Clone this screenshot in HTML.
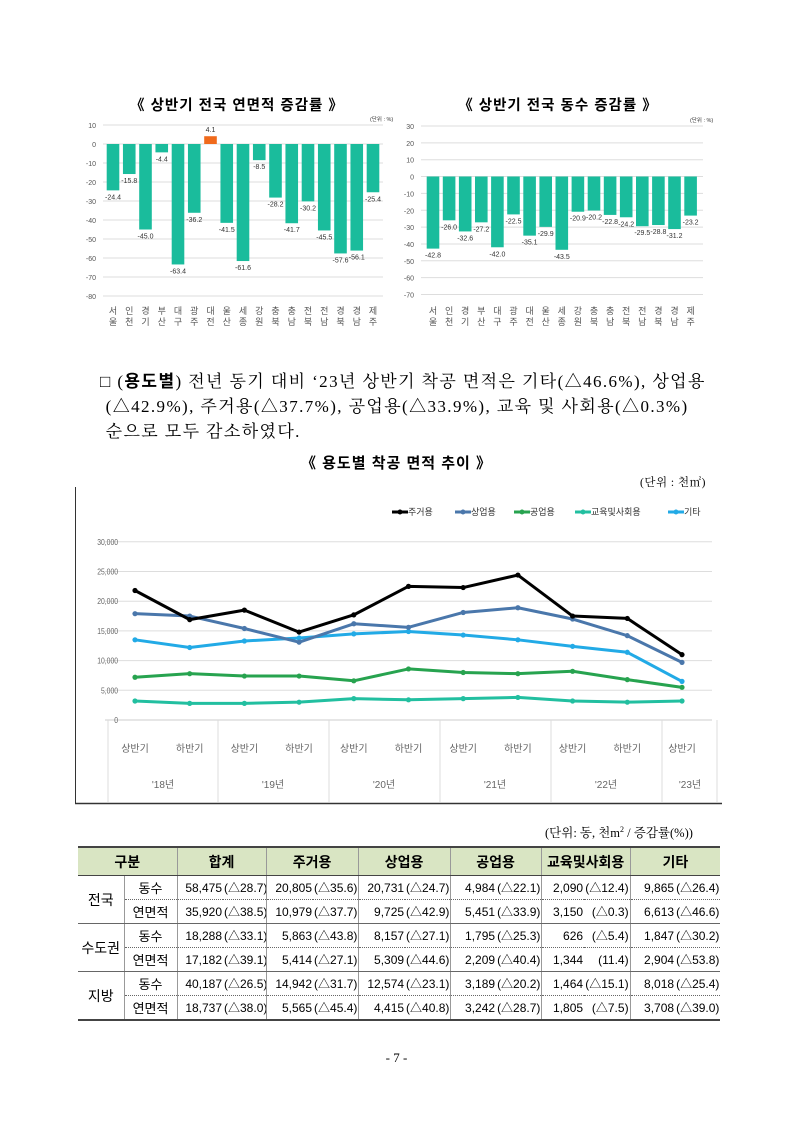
<!DOCTYPE html>
<html><head><meta charset="utf-8">
<style>
body{margin:0;background:#fff;}
#pg{position:relative;width:793px;height:1121px;overflow:hidden;font-family:"Liberation Sans","Noto Sans CJK KR",sans-serif;color:#000;}
.a{position:absolute;white-space:nowrap;}
.ser{font-family:"Liberation Serif","Noto Serif CJK SC","Noto Sans CJK KR",serif;}
table{border-collapse:collapse;position:absolute;left:78px;top:846px;width:642px;font-size:12px;table-layout:fixed;}
td{height:23px;padding:0 1px;white-space:nowrap;overflow:hidden;}
th{height:25px;background:#d9e5c3;font-weight:bold;font-size:14px;border-top:2px solid #444;border-bottom:1px solid #444;border-left:1px solid #999;}
td.n{text-align:right;border-left:1px solid #999;}
td.p{text-align:right;}
td.r{text-align:center;font-size:14px;border-right:1px solid #999;}
td.t{text-align:center;font-size:13px;}
tr.d td{border-bottom:1px dotted #666;}
tr.s td{border-bottom:1px solid #666;}
tr.last td{border-bottom:2px solid #444;}
</style></head><body><div id="pg">

<svg class="a" style="left:0;top:0" width="793" height="340" font-family="Liberation Sans, Noto Sans CJK KR, sans-serif">
<text x="237" y="110" text-anchor="middle" font-size="14.5" font-weight="bold" letter-spacing="1">《 상반기 전국 연면적 증감률 》</text>
<text x="370" y="121" font-size="5.5" fill="#333">(단위 : %)</text>
<g stroke="#ddd" stroke-width="1">
<line x1="103" x2="383" y1="125" y2="125"/><line x1="103" x2="383" y1="144" y2="144"/><line x1="103" x2="383" y1="163" y2="163"/><line x1="103" x2="383" y1="182" y2="182"/><line x1="103" x2="383" y1="201" y2="201"/><line x1="103" x2="383" y1="220" y2="220"/><line x1="103" x2="383" y1="239" y2="239"/><line x1="103" x2="383" y1="258" y2="258"/><line x1="103" x2="383" y1="277" y2="277"/><line x1="103" x2="383" y1="296" y2="296"/>
</g>
<g font-size="7" fill="#555" text-anchor="end">
<text x="96" y="128">10</text><text x="96" y="147">0</text><text x="96" y="166">-10</text><text x="96" y="185">-20</text><text x="96" y="204">-30</text><text x="96" y="223">-40</text><text x="96" y="242">-50</text><text x="96" y="261">-60</text><text x="96" y="280">-70</text><text x="96" y="299">-80</text>
</g>
<g id="b1" fill="#1abc9c"></g>
<g id="l1" font-size="7" fill="#333" text-anchor="middle"></g>
<g id="x1" font-size="9" fill="#555" text-anchor="middle"></g>

<text x="558" y="110" text-anchor="middle" font-size="14.5" font-weight="bold" letter-spacing="1">《 상반기 전국 동수 증감률 》</text>
<text x="690" y="122" font-size="5.5" fill="#333">(단위 : %)</text>
<g id="g2" stroke="#ddd"></g>
<g id="y2" font-size="7" fill="#555" text-anchor="end"></g>
<g id="b2" fill="#1abc9c"></g>
<g id="l2" font-size="7" fill="#333" text-anchor="middle"></g>
<g id="x2" font-size="9" fill="#555" text-anchor="middle"></g>
</svg>

<div class="a ser" style="left:100px;top:369px;font-size:17px;line-height:25px;letter-spacing:1.4px;">□ (<b style="font-family:'Liberation Sans','Noto Sans CJK KR',sans-serif">용도별</b>) 전년 동기 대비 ‘23년 상반기 착공 면적은 기타(△46.6%), 상업용<br>&nbsp;(△42.9%), 주거용(△37.7%), 공업용(△33.9%), 교육 및 사회용(△0.3%)<br>&nbsp;순으로 모두 감소하였다.</div>
<div class="a" style="left:0;width:793px;text-align:center;top:452px;font-size:15px;font-weight:bold;letter-spacing:1px;">《 용도별 착공 면적 추이 》</div>
<div class="a ser" style="left:640px;top:474px;font-size:11.5px;letter-spacing:0.5px;">(단위 : 천㎡)</div>

<svg class="a" style="left:0;top:0" width="793" height="810" font-family="Liberation Sans, Noto Sans CJK KR, sans-serif">
<line x1="75.5" y1="487" x2="75.5" y2="803" stroke="#333"/>
<line x1="75" y1="803.5" x2="722" y2="803.5" stroke="#333" stroke-width="1.5"/>
<g id="lg" font-size="9" fill="#333"></g>
<g id="gg" stroke="#ddd"></g>
<g id="gy" font-size="8" fill="#666" text-anchor="end" transform="scale(0.85,1)"></g>
<g id="cat" font-size="10" fill="#666" text-anchor="middle"></g>
<g id="ser" fill="none" stroke-width="3" stroke-linejoin="round"></g>
</svg>

<div class="a ser" style="left:545px;top:823px;font-size:12.5px;">(단위: 동, 천m<sup style="font-size:8px">2</sup> / 증감률(%))</div>

<table>
<colgroup><col style="width:46px"><col style="width:53px"><col style="width:46px"><col style="width:43px"><col style="width:47px"><col style="width:45px"><col style="width:47px"><col style="width:45px"><col style="width:46px"><col style="width:45px"><col style="width:43px"><col style="width:46px"><col style="width:45px"><col style="width:45px"></colgroup>
<tr><th colspan="2" style="border-left:none">구분</th><th colspan="2">합계</th><th colspan="2">주거용</th><th colspan="2">상업용</th><th colspan="2">공업용</th><th colspan="2">교육및사회용</th><th colspan="2">기타</th></tr>
<tr class="d"><td rowspan="2" class="r" style="border-bottom:1px solid #666">전국</td><td class="t">동수</td><td class="n">58,475</td><td class="p">(△28.7)</td><td class="n">20,805</td><td class="p">(△35.6)</td><td class="n">20,731</td><td class="p">(△24.7)</td><td class="n">4,984</td><td class="p">(△22.1)</td><td class="n">2,090</td><td class="p">(△12.4)</td><td class="n">9,865</td><td class="p">(△26.4)</td></tr>
<tr class="s"><td class="t">연면적</td><td class="n">35,920</td><td class="p">(△38.5)</td><td class="n">10,979</td><td class="p">(△37.7)</td><td class="n">9,725</td><td class="p">(△42.9)</td><td class="n">5,451</td><td class="p">(△33.9)</td><td class="n">3,150</td><td class="p">(△0.3)</td><td class="n">6,613</td><td class="p">(△46.6)</td></tr>
<tr class="d"><td rowspan="2" class="r" style="border-bottom:1px solid #666">수도권</td><td class="t">동수</td><td class="n">18,288</td><td class="p">(△33.1)</td><td class="n">5,863</td><td class="p">(△43.8)</td><td class="n">8,157</td><td class="p">(△27.1)</td><td class="n">1,795</td><td class="p">(△25.3)</td><td class="n">626</td><td class="p">(△5.4)</td><td class="n">1,847</td><td class="p">(△30.2)</td></tr>
<tr class="s"><td class="t">연면적</td><td class="n">17,182</td><td class="p">(△39.1)</td><td class="n">5,414</td><td class="p">(△27.1)</td><td class="n">5,309</td><td class="p">(△44.6)</td><td class="n">2,209</td><td class="p">(△40.4)</td><td class="n">1,344</td><td class="p">(11.4)</td><td class="n">2,904</td><td class="p">(△53.8)</td></tr>
<tr class="d"><td rowspan="2" class="r" style="border-bottom:2px solid #444">지방</td><td class="t">동수</td><td class="n">40,187</td><td class="p">(△26.5)</td><td class="n">14,942</td><td class="p">(△31.7)</td><td class="n">12,574</td><td class="p">(△23.1)</td><td class="n">3,189</td><td class="p">(△20.2)</td><td class="n">1,464</td><td class="p">(△15.1)</td><td class="n">8,018</td><td class="p">(△25.4)</td></tr>
<tr class="last"><td class="t">연면적</td><td class="n">18,737</td><td class="p">(△38.0)</td><td class="n">5,565</td><td class="p">(△45.4)</td><td class="n">4,415</td><td class="p">(△40.8)</td><td class="n">3,242</td><td class="p">(△28.7)</td><td class="n">1,805</td><td class="p">(△7.5)</td><td class="n">3,708</td><td class="p">(△39.0)</td></tr>
</table>

<div class="a ser" style="left:0;width:793px;text-align:center;top:1050px;font-size:13px;">- 7 -</div>

<script>
const NS="http://www.w3.org/2000/svg";
function el(p,t,a,txt){const e=document.createElementNS(NS,t);for(const k in a)e.setAttribute(k,a[k]);if(txt!=null)e.textContent=txt;document.getElementById(p).appendChild(e);return e;}
const reg=["서울","인천","경기","부산","대구","광주","대전","울산","세종","강원","충북","충남","전북","전남","경북","경남","제주"];
const v1=[-24.4,-15.8,-45.0,-4.4,-63.4,-36.2,4.1,-41.5,-61.6,-8.5,-28.2,-41.7,-30.2,-45.5,-57.6,-56.1,-25.4];
const v2=[-42.8,-26.0,-32.6,-27.2,-42.0,-22.5,-35.1,-29.9,-43.5,-20.9,-20.2,-22.8,-24.2,-29.5,-28.8,-31.2,-23.2];
function bars(v,bg,lg,xg,x0,dx,y0,s){
 v.forEach((d,i)=>{const cx=x0+i*dx,h=Math.abs(d)*s,y=d<0?y0:y0-h;
  const r=el(bg,"rect",{x:cx-6.3,y:y,width:12.6,height:h});if(d>0)r.setAttribute("fill","#f06a1c");
  el(lg,"text",{x:cx,y:d<0?y0+h+9:y-4},d.toFixed(1));
  el(xg,"text",{x:cx,y:314},reg[i][0]);el(xg,"text",{x:cx,y:325},reg[i][1]);});
}
bars(v1,"b1","l1","x1",113,16.25,144,1.9);
for(let k=0;k<=10;k++){const y=126+k*16.85;el("g2","line",{x1:421,x2:703,y1:y,y2:y});el("y2","text",{x:414,y:y+3},String(30-10*k));}
bars(v2,"b2","l2","x2",433,16.1,176.5,1.685);
for(let k=0;k<=6;k++){const y=720-k*29.7;if(k>0)el("gg","line",{x1:105,x2:712,y1:y,y2:y});el("gy","text",{x:118/0.85,y:y+3},k==0?"0":(k*5)+",000");}
el("gg","line",{x1:105,x2:712,y1:720,y2:720,stroke:"#ccc"});
[108,218,329,440,551,662,717].forEach(x=>el("gg","line",{x1:x,x2:x,y1:720,y2:802,stroke:"#ddd"}));
const xs=[],half=["상반기","하반기"];
for(let i=0;i<11;i++){xs.push(135+i*54.7);el("cat","text",{x:135+i*54.7,y:752},half[i%2]);}
["'18년","'19년","'20년","'21년","'22년","'23년"].forEach((t,i)=>el("cat","text",{x:[163,273,384,495,606,690][i],y:788},t));
const S=[["#000",[21.8,16.9,18.5,14.8,17.7,22.5,22.3,24.4,17.5,17.1,11.0],"주거용"],
["#4a77ab",[17.9,17.5,15.4,13.1,16.2,15.6,18.1,18.9,17.0,14.2,9.7],"상업용"],
["#27a34f",[7.2,7.8,7.4,7.4,6.6,8.6,8.0,7.8,8.2,6.8,5.5],"공업용"],
["#22bfa0",[3.2,2.8,2.8,3.0,3.6,3.4,3.6,3.8,3.2,3.0,3.2],"교육및사회용"],
["#22aae6",[13.5,12.2,13.3,13.8,14.5,14.9,14.3,13.5,12.4,11.4,6.5],"기타"]];
[3,2,4,1,0].forEach(j=>{const [c,d]=S[j];el("ser","polyline",{stroke:c,points:d.map((v,i)=>xs[i]+","+(720-v*5.94)).join(" ")});
 d.forEach((v,i)=>el("ser","circle",{cx:xs[i],cy:720-v*5.94,r:2.6,fill:c,stroke:"none"}));});
const lx=[392,455,514,575,668];
S.forEach((s,j)=>{el("lg","line",{x1:lx[j],x2:lx[j]+16,y1:512,y2:512,stroke:s[0],"stroke-width":3});el("lg","circle",{cx:lx[j]+8,cy:512,r:2.5,fill:s[0]});el("lg","text",{x:lx[j]+16,y:515},s[2]);});
</script>
</div></body></html>
